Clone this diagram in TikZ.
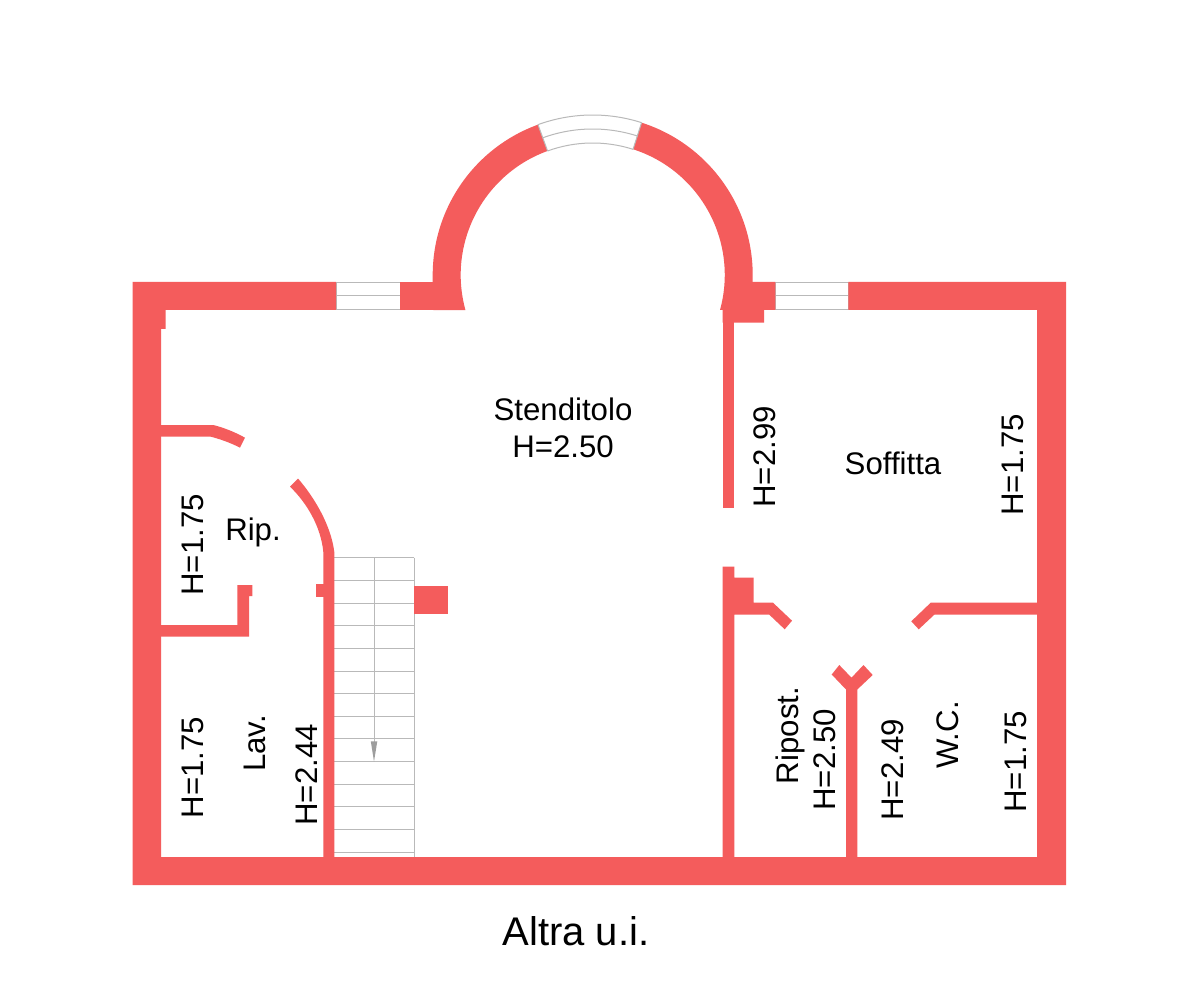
\documentclass[tikz,border=0pt]{standalone}
\usepackage{fontspec}
\setmainfont{Liberation Sans}
\definecolor{wallred}{RGB}{244,92,92}
\definecolor{linegray}{RGB}{185,185,185}
\tikzset{
  wall/.style={fill=wallred,draw=none},
  thin gray/.style={draw=linegray,line width=1pt},
  lbl/.style={inner sep=0pt,text=black,font=\fontsize{31.2}{37}\selectfont,align=center},
  vlbl/.style={lbl,rotate=90}
}
\begin{document}
\begin{tikzpicture}[x=1pt,y=-1pt]
\useasboundingbox (0,0) rectangle (1200,1000);
\fill[white] (0,0) rectangle (1200,1000);
% windows
\draw[thin gray] (336,282.5) rectangle (400,309.5) (336,295.5) -- (400,295.5);
\draw[thin gray] (775.3,282.5) rectangle (848.3,309.5) (775.3,295.5) -- (848.3,295.5);
% stairs
\foreach \i in {0,...,13} {\draw[thin gray] (334.3,{557.7+\i*22.66}) -- (414,{557.7+\i*22.66});}
\draw[thin gray] (414,557.7) -- (414,857);
\draw[thin gray] (374,557.7) -- (374,750);
\fill[linegray!85!black] (370.8,741.3) -- (377.3,741.3) -- (374,761.5) -- cycle;
% perimeter
\fill[wall] (132.5,282) -- (336,282) -- (336,310) -- (165.7,310) -- (165.7,329) -- (161,329) -- (161,857)
  -- (323.3,857) -- (1037,857) -- (1037,310) -- (848.3,310) -- (848.3,282) -- (1066,282) -- (1066,885) -- (132.5,885) -- cycle;
\fill[wall] (400,282) rectangle (440,310);
\fill[wall] (745,282) -- (775.3,282) -- (775.3,310) -- (764,310) -- (764,322.7) -- (734.3,322.7) -- (722.5,322.7) -- (722.5,305) -- cycle;
% arch
\begin{scope}[shift={(592.7,275)},y=1pt]
  \fill[wall] (-160,-35) -- (-160,0) arc[start angle=180,end angle=110,radius=160] -- (110:132) arc[start angle=110,end angle=195.4,radius=132] -- cycle;
  \fill[wall] (72.2:160) arc[start angle=72.2,end angle=0,radius=160] -- (160,-35) -- (127.3,-35) arc[start angle=-15.4,end angle=72.2,radius=132] -- cycle;
  \draw[thin gray] (110:160) arc[start angle=110,end angle=72.2,radius=160];
  \draw[thin gray] (110:146) arc[start angle=110,end angle=72.2,radius=146];
  \draw[thin gray] (110:132) arc[start angle=110,end angle=72.2,radius=132];
  \draw[thin gray] (110:132) -- (110:160) (72.2:132) -- (72.2:160);
\end{scope}
% central-right wall
\fill[wall] (722.5,310) rectangle (734.3,508);
\fill[wall] (722.5,566.7) -- (734.3,566.7) -- (734.3,577.7) -- (753.7,577.7) -- (753.7,602.7) -- (773,602.7) -- (792,620.7) -- (784.7,629.3) -- (769.3,614.7) -- (734.3,614.7) -- (734.3,857) -- (722.5,857) -- cycle;
% right partition
\fill[wall] (1038,602.7) -- (930.7,602.7) -- (911.3,621.3) -- (918.7,629.3) -- (934.3,614.7) -- (1038,614.7) -- cycle;
% Y partition
\fill[wall] (846,858) -- (846,689.5) -- (831.7,674.5) -- (839.3,665) -- (851.5,677.7) -- (863.5,665) -- (872.7,675) -- (857.3,689.5) -- (857.3,858) -- cycle;
% left partitions
\fill[wall] (160,425) -- (213,425) .. controls (222,427) and (235,432) .. (245,437.7) -- (240,447.7) .. controls (231,443) and (220,439) .. (210,436.5) -- (160,436.5) -- cycle;
\fill[wall] (298,478.5) .. controls (314,497) and (331,525) .. (334.3,552) -- (334.3,858) -- (323.3,858) -- (323.3,552) .. controls (321,527) and (307,503) .. (290,486.7) -- cycle;
\fill[wall] (315.7,584.3) rectangle (324,596.7);
\fill[wall] (414,586.3) rectangle (447.7,614);
\fill[wall] (160,625) -- (237.3,625) -- (237.3,585) -- (252.3,585) -- (252.3,596) -- (249,596) -- (249,636.7) -- (160,636.7) -- cycle;
% labels
\node[lbl] (stend) at (563,428) {Stenditolo\\H=2.50};
\node[lbl] (soff) at (893,463.5) {Soffitta};
\node[lbl] (rip) at (253,532) {Rip.};
\node[vlbl] (h1) at (193,545) {H=1.75};
\node[vlbl] (h2) at (193,767.5) {H=1.75};
\node[vlbl] (lav) at (255,743.5) {Lav.};
\node[vlbl] (h3) at (307,775) {H=2.44};
\node[vlbl] (h4) at (764.5,457) {H=2.99};
\node[vlbl] (h5) at (1013,465) {H=1.75};
\node[vlbl] (ripo) at (790,735.5) {Ripost.};
\node[vlbl] (h8) at (825,760) {H=2.50};
\node[vlbl] (h6) at (893,770) {H=2.49};
\node[vlbl] (wc) at (948,735) {W.C.};
\node[vlbl] (h7) at (1016,762) {H=1.75};
\node[lbl,font=\fontsize{40}{44}\selectfont] (altra) at (576,931) {Altra u.i.};
\end{tikzpicture}
\end{document}
